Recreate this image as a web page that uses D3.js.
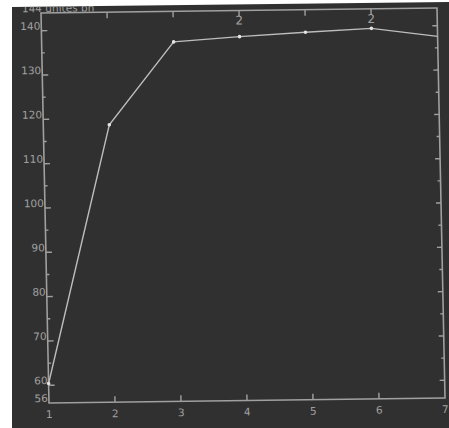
<!DOCTYPE html>
<html>
<head>
<meta charset="utf-8">
<script src="https://cdn.jsdelivr.net/npm/d3@7/dist/d3.min.js"></script>
<style>
  html, body { margin: 0; padding: 0; background: #ffffff; }
  svg { display: block; }
  text { font-family: "DejaVu Sans", sans-serif; fill: #a0a0a0; }
</style>
</head>
<body>
<script>
// Series: one value per step 1..7
const steps = [1, 2, 3, 4, 5, 6, 7];
const values = [60.4, 118.6, 137.1, 138.1, 138.9, 139.6, 137.6];

// Axis labelling
const yDomain = [56, 144];
const yLabelTicks = [60, 70, 80, 90, 100, 110, 120, 130, 140];
const yMinorTicks = [65, 75, 85, 95, 105, 115, 125, 135];
const xTickLabels = ["1", "2", "3", "4", "5", "6", "7"];
const topTicks = [2, 3, 4, 5, 6];
const topLabels = [{ at: 4, text: "2" }, { at: 6, text: "2" }];
const unitTitle = "144 unites bn";

const width = 449, height = 428;
const W = 396, H = 390;

const svg = d3.select("body").append("svg")
  .attr("width", width).attr("height", height);

// Dark panel behind the plot
const panel = [[12, 7], [449, 2], [449, 428], [12, 428]];
svg.append("clipPath").attr("id", "panel-clip")
  .append("polygon").attr("points", panel.map(p => p.join(",")).join(" "));
svg.append("polygon")
  .attr("points", panel.map(p => p.join(",")).join(" "))
  .attr("fill", "#303030");

const root = svg.append("g").attr("clip-path", "url(#panel-clip)");

// Plot frame is slightly skewed
const g = root.append("g")
  .attr("transform", `matrix(1,${-5 / W},${8 / H},1,41,13)`);

const x = d3.scaleLinear().domain([1, 7]).range([0, W]);
const y = d3.scaleLinear().domain(yDomain).range([H, 0]);

const axisColor = "#a0a0a0";

// Frame
g.append("rect")
  .attr("x", 0).attr("y", 0).attr("width", W).attr("height", H)
  .attr("fill", "none").attr("stroke", axisColor).attr("stroke-width", 1.6);

// Left axis: labelled major ticks (inward) and minor ticks
const leftAxis = g.append("g");
leftAxis.selectAll("line.major").data(yLabelTicks).join("line")
  .attr("class", "major")
  .attr("x1", 0).attr("x2", 6)
  .attr("y1", d => y(d)).attr("y2", d => y(d))
  .attr("stroke", axisColor).attr("stroke-width", 1.4);
leftAxis.selectAll("line.minor").data(yMinorTicks).join("line")
  .attr("class", "minor")
  .attr("x1", 0).attr("x2", 3)
  .attr("y1", d => y(d)).attr("y2", d => y(d))
  .attr("stroke", axisColor).attr("stroke-width", 1.4);
leftAxis.selectAll("text.tick").data(yLabelTicks).join("text")
  .attr("class", "tick")
  .attr("x", -1).attr("y", d => y(d) - 1)
  .attr("text-anchor", "end")
  .attr("font-size", 10.5)
  .text(d => d);
leftAxis.append("text")
  .attr("x", -1).attr("y", y(yDomain[0]) - 1)
  .attr("text-anchor", "end").attr("font-size", 10.5)
  .text(yDomain[0]);
leftAxis.append("text")
  .attr("x", -19).attr("y", y(yDomain[1]) - 1)
  .attr("font-size", 10.5)
  .text(unitTitle);

// Right axis: ticks pointing inward every 5 units
const rightTicks = yLabelTicks.concat(yMinorTicks);
g.append("g").selectAll("line").data(rightTicks).join("line")
  .attr("x1", W).attr("x2", d => W - (d % 10 === 0 ? 5 : 3))
  .attr("y1", d => y(d)).attr("y2", d => y(d))
  .attr("stroke", axisColor).attr("stroke-width", 1.4);

// Bottom axis
const bottomAxis = g.append("g");
bottomAxis.selectAll("line").data(steps.slice(1, -1)).join("line")
  .attr("x1", d => x(d)).attr("x2", d => x(d))
  .attr("y1", H).attr("y2", H - 6)
  .attr("stroke", axisColor).attr("stroke-width", 1.4);
bottomAxis.selectAll("text").data(steps).join("text")
  .attr("x", d => x(d)).attr("y", H + 15)
  .attr("text-anchor", "middle").attr("font-size", 10.5)
  .text((d, i) => xTickLabels[i]);

// Top axis
const topAxis = g.append("g");
topAxis.selectAll("line").data(topTicks).join("line")
  .attr("x1", d => x(d)).attr("x2", d => x(d))
  .attr("y1", 0).attr("y2", 6)
  .attr("stroke", axisColor).attr("stroke-width", 1.4);
topAxis.selectAll("text").data(topLabels).join("text")
  .attr("x", d => x(d.at)).attr("y", 14)
  .attr("text-anchor", "middle").attr("font-size", 12)
  .text(d => d.text);

// Series line and markers
const pts = steps.map((s, i) => [s, values[i]]);
g.append("path")
  .datum(pts)
  .attr("fill", "none")
  .attr("stroke", "#bdbdbd")
  .attr("stroke-width", 1.4)
  .attr("d", d3.line().x(d => x(d[0])).y(d => y(d[1])));
g.selectAll("circle").data(pts.slice(0, -1)).join("circle")
  .attr("cx", d => x(d[0])).attr("cy", d => y(d[1]))
  .attr("r", 1.8)
  .attr("fill", "#e4e4e4");
</script>
</body>
</html>
